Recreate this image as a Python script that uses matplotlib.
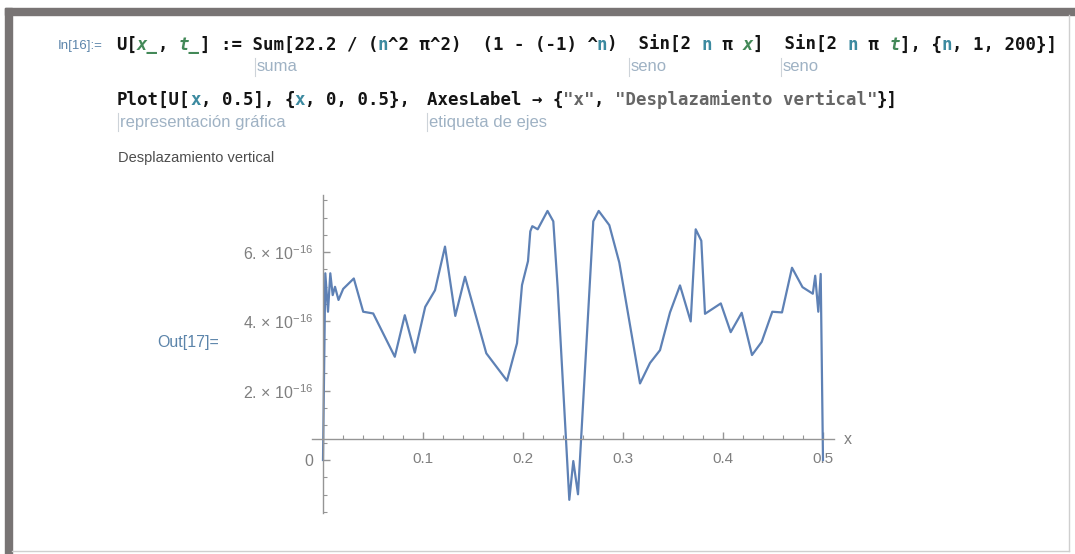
import matplotlib
matplotlib.use("Agg")
import matplotlib.pyplot as plt
from matplotlib.patches import Rectangle
from matplotlib.lines import Line2D
from matplotlib.ticker import FixedLocator, MultipleLocator, NullFormatter

# sampled points of U[x, 0.5] (y in units of 1e-16)
x_vals = [0.0, 0.0023, 0.005, 0.0073, 0.0097, 0.012, 0.0155, 0.0202, 0.0308, 0.0402,
          0.0502, 0.0718, 0.0818, 0.0918, 0.1022, 0.112, 0.122, 0.1323, 0.142, 0.1633,
          0.184, 0.194, 0.199, 0.205, 0.2073, 0.2093, 0.2147, 0.2245, 0.2303, 0.2347,
          0.2463, 0.2503, 0.255, 0.2703, 0.2757, 0.2863, 0.2963, 0.317, 0.327, 0.337,
          0.347, 0.357, 0.3677, 0.3727, 0.3783, 0.382, 0.3978, 0.4077, 0.4187, 0.429,
          0.4387, 0.4493, 0.459, 0.469, 0.4795, 0.4898, 0.4922, 0.4953, 0.4977, 0.5]
u_e16 = [0.0, 5.39, 4.28, 5.39, 4.76, 5.00, 4.62, 4.94, 5.24, 4.28,
         4.23, 2.98, 4.18, 3.10, 4.42, 4.90, 6.16, 4.16, 5.29, 3.08,
         2.29, 3.37, 5.05, 5.74, 6.60, 6.75, 6.66, 7.19, 6.89, 4.96,
         -1.15, -0.03, -0.99, 6.89, 7.19, 6.78, 5.70, 2.21, 2.80, 3.17,
         4.26, 5.04, 4.00, 6.66, 6.33, 4.22, 4.52, 3.69, 4.25, 3.03,
         3.41, 4.28, 4.26, 5.55, 4.99, 4.80, 5.32, 4.28, 5.37, 0.0]

x_ticks = [0.1, 0.2, 0.3, 0.4, 0.5]
x_tick_labels = ["0.1", "0.2", "0.3", "0.4", "0.5"]
y_ticks = [0, 2, 4, 6]
y_tick_labels = ["0", r"2. × 10$^{-16}$", r"4. × 10$^{-16}$", r"6. × 10$^{-16}$"]

W, H = 1075, 554
plt.rcParams['mathtext.fontset'] = 'custom'
plt.rcParams['mathtext.rm'] = 'Liberation Sans'
plt.rcParams['mathtext.default'] = 'rm'

fig = plt.figure(figsize=(W / 100, H / 100), dpi=100)
fig.patch.set_facecolor('white')


def fx(px):
    return px / W


def fy(py):
    return 1 - py / H


# notebook cell frame
fig.patches.append(Rectangle((fx(5), fy(15)), fx(1075) - fx(5), fy(8) - fy(15),
                             transform=fig.transFigure, color='#787474', zorder=0))
fig.patches.append(Rectangle((fx(5), fy(554)), fx(12) - fx(5), fy(8) - fy(554),
                             transform=fig.transFigure, color='#787474', zorder=0))
fig.lines.append(Line2D([fx(1069), fx(1069)], [fy(15), fy(551)], transform=fig.transFigure,
                        color='#cfcfcf', lw=1))
fig.lines.append(Line2D([fx(12), fx(1069)], [fy(551), fy(551)], transform=fig.transFigure,
                        color='#cfcfcf', lw=1))

BLACK = '#141414'
GREEN = '#438958'
TEAL = '#3c8aa0'
STR = '#666666'
HINT = '#9fb2c4'
LABEL = '#5b84aa'

CW = 10.45                      # monospace cell width in px
CODE_PT = CW / 0.602 * 0.72     # DejaVu Sans Mono advance is 0.602 em


def code_line(px, py, segments):
    """Lay out coloured monospace segments one character cell at a time."""
    i = 0
    for s, color, italic in segments:
        fig.text(fx(px + i * CW), fy(py), s, family='DejaVu Sans Mono', weight='bold',
                 size=CODE_PT, style='italic' if italic else 'normal', color=color,
                 va='center', ha='left')
        i += len(s)


def hint(px, py, s):
    fig.lines.append(Line2D([fx(px - 2), fx(px - 2)], [fy(py - 9), fy(py + 9)],
                            transform=fig.transFigure, color='#cdd3d9', lw=0.8))
    fig.text(fx(px), fy(py), s, family='Liberation Sans', size=12, color=HINT,
             va='center', ha='left')


fig.text(fx(58), fy(46), "In[16]:=", family='Liberation Sans', size=9.5, color=LABEL,
         va='center', ha='left')

line1 = [
    ("U[", BLACK, False), ("x_", GREEN, True), (", ", BLACK, False), ("t_", GREEN, True),
    ("] := Sum[22.2 / (", BLACK, False), ("n", TEAL, False),
    ("^2 π^2)  (1 - (-1) ^", BLACK, False), ("n", TEAL, False),
    (")  Sin[2 ", BLACK, False), ("n", TEAL, False), (" π ", BLACK, False),
    ("x", GREEN, True), ("]  Sin[2 ", BLACK, False), ("n", TEAL, False),
    (" π ", BLACK, False), ("t", GREEN, True), ("], {", BLACK, False),
    ("n", TEAL, False), (", 1, 200}]", BLACK, False),
]
code_line(116, 45, line1)

hint(257, 67, "suma")
hint(631, 67, "seno")
hint(783, 67, "seno")

line2a = [
    ("Plot[U[", BLACK, False), ("x", TEAL, False), (", 0.5], {", BLACK, False),
    ("x", TEAL, False), (", 0, 0.5},", BLACK, False),
]
line2b = [
    ("AxesLabel → {", BLACK, False), ('"x"', STR, False), (", ", BLACK, False),
    ('"Desplazamiento vertical"', STR, False), ("}]", BLACK, False),
]
code_line(117, 100, line2a)
code_line(427, 100, line2b)

hint(120, 122, "representación gráfica")
hint(429, 122, "etiqueta de ejes")

fig.text(fx(118), fy(158), "Desplazamiento vertical", family='Liberation Sans', size=10.5,
         color='#4d4d4d', va='center', ha='left')
fig.text(fx(157), fy(342), "Out[17]=", family='Liberation Sans', size=11.5, color=LABEL,
         va='center', ha='left')

# plot area: x from -0.011 to 0.511, y (1e-16) from -1.53 to 7.65
ax = fig.add_axes([fx(312), fy(513), fx(834) - fx(312), fy(195) - fy(513)])
ax.set_facecolor('none')
ax.set_xlim(-0.011, 0.511)
ax.set_ylim(-1.53, 7.65)

ax.plot(x_vals, u_e16, color='#5e81b5', lw=1.6, clip_on=False)

axis_grey = '#959595'
for side in ['top', 'right']:
    ax.spines[side].set_visible(False)
ax.spines['left'].set_position(('data', 0))
ax.spines['bottom'].set_position(('data', 0.6))
for side in ['left', 'bottom']:
    ax.spines[side].set_color(axis_grey)
    ax.spines[side].set_linewidth(1.0)

ax.xaxis.set_major_locator(FixedLocator(x_ticks))
ax.set_xticklabels(x_tick_labels)
ax.xaxis.set_minor_locator(MultipleLocator(0.02))
ax.yaxis.set_major_locator(FixedLocator(y_ticks))
ax.set_yticklabels(y_tick_labels)
ax.yaxis.set_minor_locator(MultipleLocator(0.5))
ax.xaxis.set_minor_formatter(NullFormatter())
ax.yaxis.set_minor_formatter(NullFormatter())

ax.tick_params(which='both', direction='in', color=axis_grey, labelcolor='#7f7f7f')
ax.tick_params(which='major', length=5, width=1)
ax.tick_params(which='minor', length=3, width=0.8)
ax.tick_params(axis='y', pad=7, labelsize=11.5)
ax.tick_params(axis='x', pad=9, labelsize=11)
for lab in ax.get_xticklabels() + ax.get_yticklabels():
    lab.set_family('Liberation Sans')

fig.text(fx(844), fy(440), "x", family='Liberation Sans', size=11.5, color='#7f7f7f',
         va='center', ha='left')

fig.savefig("out.png", dpi=100)
